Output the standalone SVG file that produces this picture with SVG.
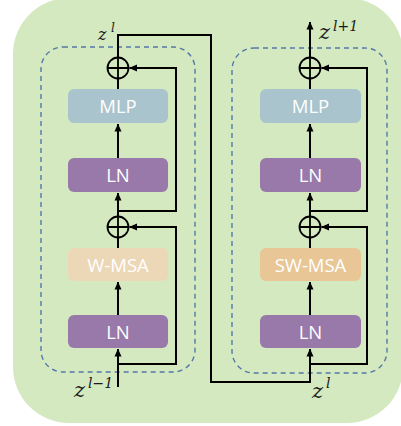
<svg xmlns="http://www.w3.org/2000/svg" width="401" height="426" viewBox="0 0 401 426">
  <defs>
    <marker id="arrow" viewBox="0 0 8 8" refX="7.5" refY="4" markerWidth="8" markerHeight="8" markerUnits="userSpaceOnUse" orient="auto">
      <path d="M0,0.5 L8,4 L0,7.5 z" fill="#000"/>
    </marker>
    <style>
      .frame { fill: none; stroke: #5478a8; stroke-width: 1.4; stroke-dasharray: 5 4; }
      .box { stroke: none; }
      .mlp { fill: #a9c4cd; }
      .ln { fill: #9879a9; }
      .wmsa { fill: #ecd7b6; }
      .swmsa { fill: #e8c696; }
      .label { font-family: "Open Sans", "Noto Sans", sans-serif; font-size: 18.5px; fill: #ffffff; text-anchor: middle; }
      .wire { fill: none; stroke: #000; stroke-width: 2; }
      .arr { fill: none; stroke: #000; stroke-width: 2; marker-end: url(#arrow); }
      .sum { fill: none; stroke: #000; stroke-width: 1.8; }
      .math { font-family: "DejaVu Serif", "Liberation Serif", serif; font-style: italic; fill: #1a1a1a; }
    </style>
  </defs>

  <!-- background panel -->
  <rect x="13" y="-2" width="390" height="425" rx="56" fill="#d4e9c0"/>

  <!-- block frames -->
  <rect class="frame" x="41" y="47" width="154" height="325" rx="22"/>
  <rect class="frame" x="232" y="48" width="155" height="325" rx="22"/>

  <!-- connectors -->
  <g id="connectors">
    <!-- left block -->
    <line class="arr" x1="118" y1="387" x2="118" y2="349"/>
    <path class="arr" d="M118,364 H176 V227 H129.5"/>
    <line class="arr" x1="118" y1="315" x2="118" y2="282"/>
    <line class="wire" x1="118" y1="248" x2="118" y2="237.5"/>
    <line class="arr" x1="118" y1="216.5" x2="118" y2="193"/>
    <line class="arr" x1="118" y1="158" x2="118" y2="124"/>
    <line class="wire" x1="118" y1="89" x2="118" y2="78.5"/>
    <path class="arr" d="M118,211 H176 V68 H129.5"/>
    <!-- link between blocks -->
    <path class="arr" d="M118,57.5 V35 H211 V382 H310 V349"/>
    <!-- right block -->
    <path class="arr" d="M310,364 H367 V227 H321.5"/>
    <line class="arr" x1="310" y1="315" x2="310" y2="282"/>
    <line class="wire" x1="310" y1="248" x2="310" y2="237.5"/>
    <line class="arr" x1="310" y1="216.5" x2="310" y2="193"/>
    <line class="arr" x1="310" y1="158" x2="310" y2="124"/>
    <line class="wire" x1="310" y1="89" x2="310" y2="78.5"/>
    <path class="arr" d="M310,211 H367 V68 H321.5"/>
    <line class="arr" x1="310" y1="57.5" x2="310" y2="22"/>
  </g>

  <!-- left block nodes -->
  <g id="ln1-a">
    <rect class="box ln" x="68" y="315" width="100" height="33" rx="6"/>
    <text class="label" x="118" y="338.5">LN</text>
  </g>
  <g id="wmsa">
    <rect class="box wmsa" x="68" y="248" width="100" height="33" rx="6"/>
    <text class="label" x="118" y="271.5">W-MSA</text>
  </g>
  <g id="add1-a">
    <circle class="sum" cx="118" cy="227" r="10.5"/>
    <path class="sum" d="M107.5,227 H128.5 M118,216.5 V237.5"/>
  </g>
  <g id="ln2-a">
    <rect class="box ln" x="68" y="158" width="100" height="34" rx="6"/>
    <text class="label" x="118" y="181.5">LN</text>
  </g>
  <g id="mlp-a">
    <rect class="box mlp" x="68" y="89" width="100" height="34" rx="6"/>
    <text class="label" x="118" y="112.5">MLP</text>
  </g>
  <g id="add2-a">
    <circle class="sum" cx="118" cy="68" r="10.5"/>
    <path class="sum" d="M107.5,68 H128.5 M118,57.5 V78.5"/>
  </g>

  <!-- right block nodes -->
  <g id="ln1-b">
    <rect class="box ln" x="260" y="315" width="101" height="33" rx="6"/>
    <text class="label" x="310.5" y="338.5">LN</text>
  </g>
  <g id="swmsa">
    <rect class="box swmsa" x="260" y="248" width="101" height="33" rx="6"/>
    <text class="label" x="310.5" y="271.5">SW-MSA</text>
  </g>
  <g id="add1-b">
    <circle class="sum" cx="310" cy="227" r="10.5"/>
    <path class="sum" d="M299.5,227 H320.5 M310,216.5 V237.5"/>
  </g>
  <g id="ln2-b">
    <rect class="box ln" x="260" y="158" width="101" height="34" rx="6"/>
    <text class="label" x="310.5" y="181.5">LN</text>
  </g>
  <g id="mlp-b">
    <rect class="box mlp" x="260" y="89" width="101" height="34" rx="6"/>
    <text class="label" x="310.5" y="112.5">MLP</text>
  </g>
  <g id="add2-b">
    <circle class="sum" cx="310" cy="68" r="10.5"/>
    <path class="sum" d="M299.5,68 H320.5 M310,57.5 V78.5"/>
  </g>

  <!-- signal labels -->
  <g id="label-zl-top">
    <text class="math" x="98" y="40" font-size="16">z</text>
    <text class="math" x="111" y="32" font-size="12">l</text>
  </g>
  <g id="label-zl1">
    <text class="math" x="319" y="39" font-size="21">z</text>
    <text class="math" x="333" y="31" font-size="14">l+1</text>
  </g>
  <g id="label-zlm1">
    <text class="math" x="74" y="397" font-size="21">z</text>
    <text class="math" x="88" y="388" font-size="14">l−1</text>
  </g>
  <g id="label-zl-bottom">
    <text class="math" x="312" y="398" font-size="21">z</text>
    <text class="math" x="326" y="388" font-size="14">l</text>
  </g>
</svg>
